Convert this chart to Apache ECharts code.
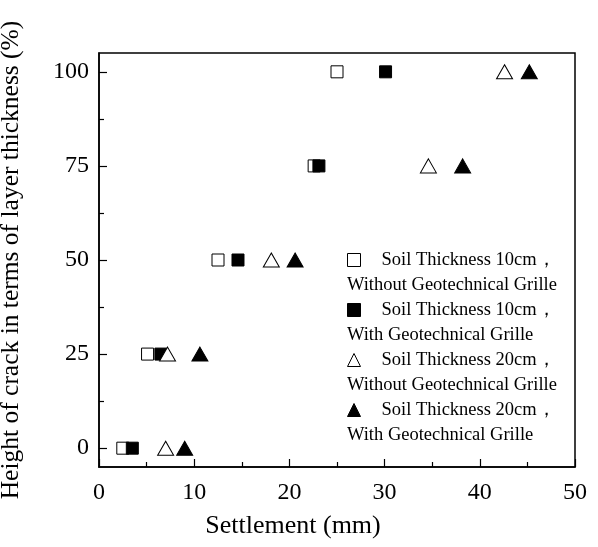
<!DOCTYPE html>
<html>
<head>
<meta charset="utf-8">
<script src="https://cdn.jsdelivr.net/npm/echarts@6/dist/echarts.min.js"></script>
<style>
  html, body { margin: 0; padding: 0; background: #fff; }
  #chart { width: 598px; height: 547px; }
</style>
</head>
<body>
<div id="chart"></div>
<script>
// crack height (% of layer thickness) against settlement (mm)
const heights = [0, 25, 50, 75, 100]
const soil10NoGrille = [2.5, 5.1, 12.5, 22.6, 25.0]
const soil10Grille = [3.5, 6.5, 14.6, 23.1, 30.1]
const soil20NoGrille = [7.0, 7.2, 18.1, 34.6, 42.6]
const soil20Grille = [9.0, 10.6, 20.6, 38.2, 45.2]

const seriesNames = ['s10n', 's10g', 's20n', 's20g']
const firstLines = ['Soil Thickness 10cm，', 'Soil Thickness 10cm，', 'Soil Thickness 20cm，', 'Soil Thickness 20cm，']
const secondLines = ['Without Geotechnical Grille', 'With Geotechnical Grille', 'Without Geotechnical Grille', 'With Geotechnical Grille']

const majorY = [0, 25, 50, 75, 100]
const minorY = [12.5, 37.5, 62.5, 87.5]

const font = 'Liberation Serif, Times New Roman, serif'
const pairs = (xs) => xs.map((x, i) => [x, heights[i]])

const chart = echarts.init(document.getElementById('chart'))

const markers = [
  { symbol: 'rect', size: 12, fill: '#fff', data: soil10NoGrille },
  { symbol: 'rect', size: 12, fill: '#000', data: soil10Grille },
  { symbol: 'triangle', size: [16, 14], fill: '#fff', data: soil20NoGrille },
  { symbol: 'triangle', size: [16, 14], fill: '#000', data: soil20Grille },
]

chart.setOption({
  animation: false,
  grid: {
    left: 99, right: 23, top: 53, bottom: 80,
    outerBoundsMode: 'none', containLabel: false,
    show: true, borderColor: '#000', borderWidth: 1.5, backgroundColor: 'transparent'
  },
  xAxis: {
    type: 'value', min: 0, max: 50, interval: 10,
    name: 'Settlement (mm)', nameLocation: 'middle', nameGap: 46,
    nameTextStyle: { fontFamily: font, fontSize: 26, color: '#000', padding: [0, 88, 0, 0] },
    axisLine: { onZero: false, lineStyle: { color: '#000', width: 1.5 } },
    axisTick: { inside: true, length: 8, lineStyle: { color: '#000', width: 1.2 } },
    minorTick: { show: true, splitNumber: 2, length: 5, lineStyle: { color: '#000', width: 1.2 } },
    axisLabel: { fontFamily: font, fontSize: 24, color: '#000', margin: 14 },
    splitLine: { show: false }
  },
  yAxis: [{
    type: 'value', min: -5, max: 105,
    name: 'Height of crack in terms of layer thickness (%)', nameLocation: 'middle', nameGap: 75,
    nameTextStyle: { fontFamily: font, fontSize: 25.5, color: '#000' },
    axisLine: { onZero: false, lineStyle: { color: '#000', width: 1.5 } },
    axisTick: { inside: true, length: 8, customValues: majorY, lineStyle: { color: '#000', width: 1.2 } },
    axisLabel: { fontFamily: font, fontSize: 24, color: '#000', margin: 10, customValues: majorY },
    splitLine: { show: false }
  }, {
    // minor ticks only
    type: 'value', min: -5, max: 105, position: 'left',
    axisLine: { show: false },
    axisTick: { inside: true, length: 5, customValues: minorY, lineStyle: { color: '#000', width: 1.2 } },
    axisLabel: { show: false },
    splitLine: { show: false }
  }],
  legend: [{
    orient: 'vertical', left: 347, top: 250, padding: 0,
    itemWidth: 13, itemHeight: 13, itemGap: 30,
    data: seriesNames,
    formatter: (name) => firstLines[seriesNames.indexOf(name)],
    itemStyle: { borderWidth: 1 },
    textStyle: { fontFamily: font, fontSize: 18.5, color: '#000', lineHeight: 20, padding: [0, 0, 0, 16] }
  }, {
    orient: 'vertical', left: 341, top: 275, padding: 0,
    itemWidth: 0, itemHeight: 0, itemGap: 30,
    data: seriesNames,
    formatter: (name) => secondLines[seriesNames.indexOf(name)],
    textStyle: { fontFamily: font, fontSize: 18.5, color: '#000', lineHeight: 20 }
  }],
  series: markers.map((m, i) => ({
    name: seriesNames[i],
    type: 'scatter',
    symbol: m.symbol,
    symbolSize: m.size,
    itemStyle: { color: m.fill, borderColor: '#000', borderWidth: 1, opacity: 1 },
    emphasis: { disabled: true },
    data: pairs(m.data)
  }))
})
</script>
</body>
</html>
